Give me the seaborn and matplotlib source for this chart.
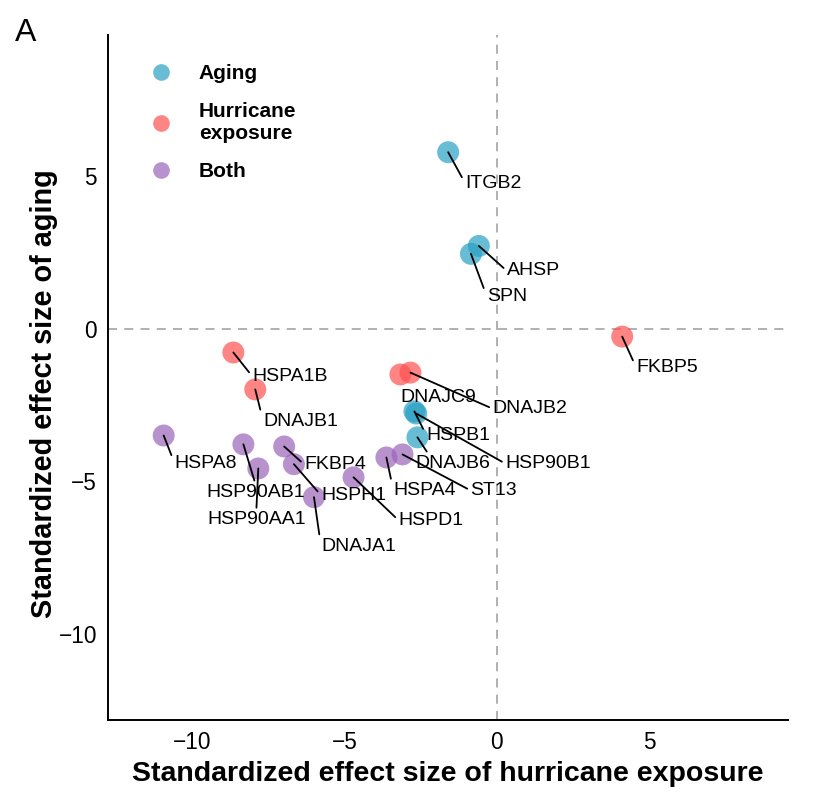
import matplotlib
matplotlib.use("Agg")
import matplotlib.pyplot as plt
import seaborn as sns
import pandas as pd
from matplotlib.lines import Line2D

# ---- data ----
genes = ["ITGB2", "AHSP", "SPN", "FKBP5", "HSPA1B", "DNAJB1", "DNAJC9", "DNAJB2",
         "HSPB1", "HSP90B1", "DNAJB6", "HSPA4", "ST13", "HSPA8", "HSP90AB1",
         "HSP90AA1", "FKBP4", "HSPH1", "DNAJA1", "HSPD1"]
hurricane_effect = [-1.60, -0.59, -0.85, 4.12, -8.66, -7.94, -3.17, -2.84,
                    -2.71, -2.65, -2.61, -3.63, -3.10, -10.95, -8.33,
                    -7.84, -6.99, -6.67, -6.01, -4.71]
aging_effect = [5.78, 2.71, 2.45, -0.26, -0.78, -1.99, -1.50, -1.44,
                -2.71, -2.78, -3.56, -4.22, -4.12, -3.50, -3.79,
                -4.58, -3.86, -4.44, -5.52, -4.87]
group = ["Aging", "Aging", "Aging", "Hurricane\nexposure", "Hurricane\nexposure",
         "Hurricane\nexposure", "Hurricane\nexposure", "Hurricane\nexposure",
         "Aging", "Aging", "Aging", "Both", "Both", "Both", "Both",
         "Both", "Both", "Both", "Both", "Both"]
group_order = ["Aging", "Hurricane\nexposure", "Both"]
x_ticks = [-10, -5, 0, 5]
y_ticks = [-10, -5, 0, 5]

# ---- label layout (pixel offsets from point: dx right, dy down), ha, relpos ----
label_layout = {
    "ITGB2": (17, 31, "left", (0, 0.5)),
    "AHSP": (28, 25, "left", (0, 0.5)),
    "SPN": (16, 43, "left", (0, 0.5)),
    "FKBP5": (14, 31, "left", (0, 0.5)),
    "HSPA1B": (19, 24, "left", (0, 0.5)),
    "DNAJB1": (8, 32, "left", (0, 0.5)),
    "DNAJC9": (0, 23, "left", None),
    "DNAJB2": (82, 36, "left", (0, 0.5)),
    "HSPB1": (12, 24, "left", (0, 0.5)),
    "HSP90B1": (89, 50, "left", (0, 0.5)),
    "DNAJB6": (-2, 26, "left", (0.18, 1)),
    "HSPA4": (7, 33, "left", (0, 0.5)),
    "ST13": (68, 36, "left", (0, 0.5)),
    "HSPA8": (11, 28, "left", (0, 0.5)),
    "HSP90AB1": (12, 48, "center", (0.5, 1)),
    "HSP90AA1": (-2, 51, "center", (0.5, 1)),
    "FKBP4": (20, 18, "left", (0, 0.5)),
    "HSPH1": (27, 31, "left", (0, 0.5)),
    "DNAJA1": (7, 49, "left", (0, 0.5)),
    "HSPD1": (45, 43, "left", (0, 0.5)),
}

palette = {"Aging": "#28A0C3", "Hurricane\nexposure": "#FF5050", "Both": "#9B64B9"}

df = pd.DataFrame({"gene": genes, "hurricane": hurricane_effect,
                   "aging": aging_effect, "group": group})

sns.set_style("white")
plt.rcParams["font.family"] = ["Liberation Sans", "DejaVu Sans"]
plt.rcParams["text.color"] = "black"
plt.rcParams["axes.labelcolor"] = "black"

fig = plt.figure(figsize=(8.19, 7.98), dpi=100)
ax = fig.add_axes([108 / 819, 1 - 720 / 798, 680 / 819, 685 / 798])

ax.axhline(0, color="#AAAAAA", lw=1.3, ls=(0, (5, 4)), zorder=0)
ax.axvline(0, color="#AAAAAA", lw=1.3, ls=(0, (5, 4)), zorder=0)

sns.scatterplot(data=df, x="hurricane", y="aging", hue="group", hue_order=group_order,
                palette=palette, s=250, alpha=0.7, edgecolor="none", ax=ax, legend=False,
                zorder=2)

px2pt = 72 / 100
for g, xv, yv in zip(genes, hurricane_effect, aging_effect):
    dx, dy, ha, relpos = label_layout[g]
    kw = {}
    if relpos is not None:
        kw["arrowprops"] = dict(arrowstyle="-", color="black", lw=1.3,
                                shrinkA=0, shrinkB=0, relpos=relpos)
    ax.annotate(g, xy=(xv, yv), xytext=(dx * px2pt, -dy * px2pt),
                textcoords="offset points", ha=ha, va="center",
                fontsize=14, color="black", zorder=3, **kw)

ax.set_xlim(-12.78, 9.57)
ax.set_ylim(-12.82, 9.62)
ax.set_xticks(x_ticks)
ax.set_yticks(y_ticks)
ax.tick_params(axis="both", length=0, labelsize=16.3, colors="black")
ax.tick_params(axis="x", pad=8)
ax.tick_params(axis="y", pad=8)
ax.set_xlabel("Standardized effect size of hurricane exposure", fontsize=20.5,
              fontweight="bold", labelpad=5)
ax.set_ylabel("Standardized effect size of aging", fontsize=20.8,
              fontweight="bold")
ax.yaxis.set_label_coords(-0.074, 0.476)

for side in ["top", "right"]:
    ax.spines[side].set_visible(False)
for side in ["left", "bottom"]:
    ax.spines[side].set_color("black")
    ax.spines[side].set_linewidth(1.4)

handles = [Line2D([], [], ls="none", marker="o", markersize=12, alpha=0.7,
                  markerfacecolor=palette[g], markeredgecolor="none") for g in group_order]
leg = ax.legend(handles, group_order, loc="upper left",
                bbox_to_anchor=(151 / 819, 1 - 64 / 798), bbox_transform=fig.transFigure,
                frameon=False, prop={"size": 15, "weight": "bold"},
                handlelength=1.0, handletextpad=1.3, labelspacing=0.92,
                borderpad=0, borderaxespad=0)
for t in leg.get_texts():
    t.set_color("black")

fig.text(15 / 819, 1 - 18 / 798, "A", fontsize=23, ha="left", va="top", color="black")

fig.savefig("out.png", dpi=100)
